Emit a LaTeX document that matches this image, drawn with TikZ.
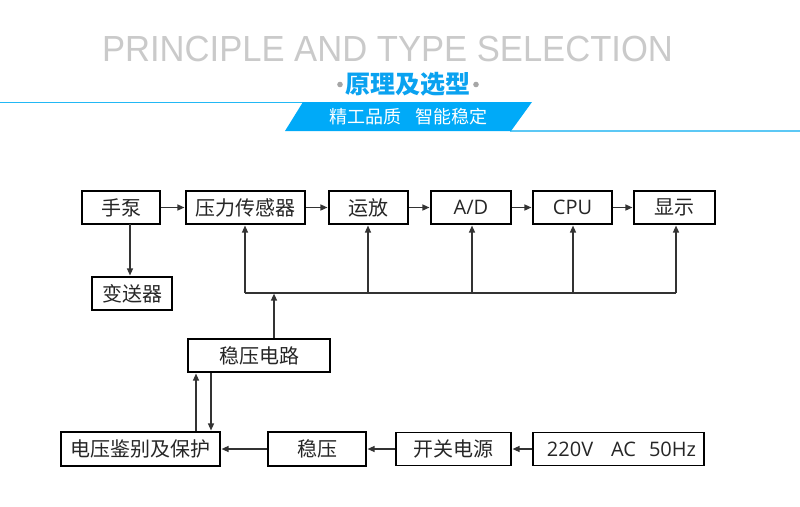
\documentclass[tikz,border=0pt]{standalone}
\usepackage{fontspec}
\setmainfont{Open Sans}
\newfontfamily\cjk{Noto Sans CJK SC}
\newfontfamily\lib{Liberation Sans}
\usetikzlibrary{arrows.meta}
\definecolor{titlegray}{HTML}{CACACA}
\definecolor{hdblue}{HTML}{0AA2F0}
\definecolor{bannerblue}{HTML}{00AAF8}
\definecolor{lineblue}{HTML}{22B8F5}
\definecolor{lineblue2}{HTML}{5CC8F5}
\definecolor{conncol}{HTML}{333333}
\begin{document}
\begin{tikzpicture}[x=1pt,y=-1pt,
  box/.style={draw=black, line width=1.9pt, inner sep=0pt, font=\cjk\fontsize{20}{24}\selectfont, text=black!85},
  latin/.style={font=\fontsize{20}{24}\selectfont},
  arr/.style={draw=conncol, line width=1.3pt, -{Triangle[length=7pt,width=6pt]}, shorten >=0.6pt},
  conn/.style={draw=conncol, line width=1.3pt}]
\useasboundingbox (0,0) rectangle (800,506);
\fill[white] (0,0) rectangle (800,506);
% header
\node[anchor=base, text=titlegray, font=\lib\fontsize{36.3}{40}\selectfont, inner sep=0pt] (title) at (387.5,61) {\scalebox{0.953}[1]{PRINCIPLE AND TYPE SELECTION}};
\node[text=hdblue, font=\cjk\bfseries\fontsize{25}{28}\selectfont, inner sep=0pt] (sub) at (407.5,84.5) {原理及选型};
\fill[gray!70] (340,84.5) circle (2.8pt);
\fill[gray!70] (476,84.5) circle (2.8pt);
\draw[lineblue, line width=1.3pt] (0,102.5) -- (304,102.5);
\draw[lineblue2, line width=2pt] (510,131) -- (800,131);
\fill[bannerblue] (303,102) -- (532,102) -- (511,131) -- (285,131) -- cycle;
\node[text=white, font=\cjk\fontsize{18}{22}\selectfont, inner sep=0pt] (slogan) at (408.5,116.5) {精工品质\hspace{14pt}智能稳定};
% boxes
\node[box, minimum width=78pt, minimum height=33pt] (beng) at (121,207.5) {手泵};
\node[box, minimum width=119pt, minimum height=33pt] (sensor) at (245.5,207.5) {压力传感器};
\node[box, minimum width=79pt, minimum height=33pt] (amp) at (368.5,207.5) {运放};
\node[box, latin, minimum width=80pt, minimum height=33pt] (ad) at (471,207.5) {A/D};
\node[box, latin, minimum width=79pt, minimum height=33pt] (cpu) at (572.5,207.5) {CPU};
\node[box, minimum width=81pt, minimum height=33pt] (disp) at (674.5,207.5) {显示};
\node[box, minimum width=80pt, minimum height=33pt] (trans) at (132,293.5) {变送器};
\node[box, minimum width=142pt, minimum height=33pt] (reg) at (259,355.5) {稳压电路};
\node[box, minimum width=159pt, minimum height=34pt] (prot) at (140.5,449) {电压鉴别及保护};
\node[box, minimum width=98pt, minimum height=34pt] (wy) at (317,449) {稳压};
\node[box, minimum width=115pt, minimum height=33pt] (kg) at (453.5,449) {开关电源};
\node[box, latin, minimum width=171pt, minimum height=33pt] (ac) at (618.5,449) {\hspace{6pt}220V\hspace{18pt}AC\hspace{13pt}50Hz};
% top chain
\draw[arr] (beng) -- (sensor);
\draw[arr] (sensor) -- (amp);
\draw[arr] (amp) -- (ad);
\draw[arr] (ad) -- (cpu);
\draw[arr] (cpu) -- (disp);
\coordinate (bx) at (130,224);
\draw[arr] (bx) -- (bx |- trans.north);
% bus
\coordinate (b1) at (245,293);
\coordinate (b2) at (368,293);
\coordinate (b3) at (472,293);
\coordinate (b4) at (573,293);
\coordinate (b5) at (676,293);
\coordinate (bin) at (274,293);
\draw[conn] (b1) -- (b5);
\draw[arr] (b1) -- (b1 |- sensor.south);
\draw[arr] (b2) -- (b2 |- amp.south);
\draw[arr] (b3) -- (b3 |- ad.south);
\draw[arr] (b4) -- (b4 |- cpu.south);
\draw[arr] (b5) -- (b5 |- disp.south);
\draw[arr] (bin |- reg.north) -- (bin);
% regulator links
\coordinate (u1) at (196,400);
\coordinate (u2) at (211,400);
\draw[arr] (u1 |- prot.north) -- (u1 |- reg.south);
\draw[arr] (u2 |- reg.south) -- (u2 |- prot.north);
% bottom chain
\draw[arr] (ac) -- (kg);
\draw[arr] (kg) -- (wy);
\draw[arr] (wy) -- (prot);
\end{tikzpicture}
\end{document}
